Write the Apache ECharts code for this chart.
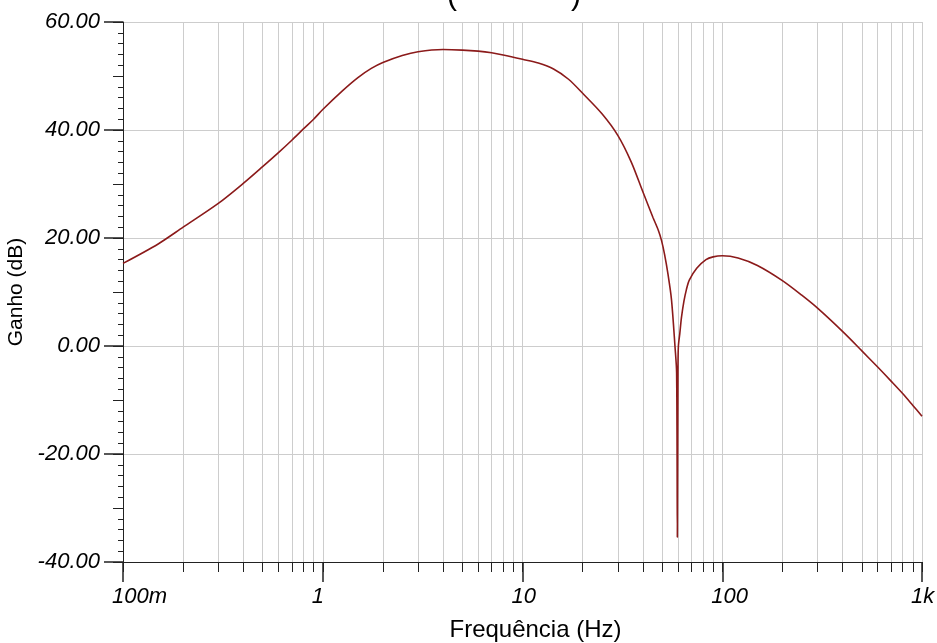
<!DOCTYPE html>
<html>
<head>
<meta charset="utf-8">
<script src="https://cdn.jsdelivr.net/npm/echarts@6/dist/echarts.min.js"></script>
<style>
  html, body { margin: 0; padding: 0; background: #ffffff; }
  #chart { width: 937px; height: 643px; }
</style>
</head>
<body>
<div id="chart"></div>
<script>
// ---- data (frequency in Hz, gain in dB) ----
const freqHz = [0.1, 0.15, 0.2, 0.3, 0.4, 0.5, 0.6, 0.7, 0.8, 0.9, 1, 1.25, 1.5, 1.75, 2, 2.5, 3, 4, 5, 6, 7, 8,
  10, 12, 14.3, 17, 20, 25, 30, 35, 40, 45, 47.9, 49.6, 51.4, 53.5, 55.7, 58, 59.1, 59.6, 60.0, 60.3, 61.3, 62.5, 64.3, 66.1,
  68.4, 74.5, 82.9, 90, 100, 120, 150, 200, 250, 300, 400, 500, 600, 700, 800, 900, 1000];
const gainDb = [15.3, 18.9, 22.0, 26.4, 30.1, 33.2, 35.8, 38.1, 40.2, 42.0, 43.8, 47.2, 49.7, 51.4, 52.5, 53.8, 54.5, 54.9, 54.8, 54.6, 54.3, 53.9,
  53.1, 52.4, 51.3, 49.4, 46.8, 43.0, 39.0, 34.1, 28.6, 23.8, 21.4, 19.6, 17.0, 13.3, 8.6, -0.1, -5.0, -35.4, -5.0, -0.1, 2.3, 5.3, 8.3, 10.4,
  12.2, 14.4, 16.0, 16.5, 16.7, 16.3, 14.9, 12.1, 9.4, 7.0, 2.7, -0.9, -3.9, -6.5, -8.8, -11.0, -13.0];

// ---- axis ticks ----
const xTickValues = [0.1, 1, 10, 100, 1000];
const xTickLabels = ['100m', '1', '10', '100', '1k'];
const yMin = -40, yMax = 60, yStep = 20;
const xAxisTitle = 'Frequência (Hz)';
const yAxisTitle = 'Ganho (dB)';

// ---- build options ----
const lg = v => Math.log10(v);
const majorPos = xTickValues.map(lg);
const allPos = [];
for (let i = 0; i < xTickValues.length - 1; i++) {
  for (let k = 1; k <= 9; k++) allPos.push(lg(xTickValues[i] * k));
}
allPos.push(lg(xTickValues[xTickValues.length - 1]));

const seriesData = freqHz.map((f, i) => [lg(f), gainDb[i]]);

const FONT = 'Liberation Sans, Arial, sans-serif';
const AXIS_COLOR = '#222';
const GRID_COLOR = '#cdcdcd';

const chart = echarts.init(document.getElementById('chart'), null, { renderer: 'canvas' });
chart.setOption({
  animation: false,
  backgroundColor: '#ffffff',
  grid: { left: 123, top: 22, width: 799, height: 540, containLabel: false, outerBoundsMode: 'none' },
  graphic: [
    { type: 'text', left: 447, top: -18, style: { text: '(', font: '30px ' + FONT, fill: '#000' } },
    { type: 'text', left: 571, top: -18, style: { text: ')', font: '30px ' + FONT, fill: '#000' } }
  ],
  xAxis: [
    {
      type: 'value', min: majorPos[0], max: majorPos[majorPos.length - 1], position: 'bottom',
      axisLine: { show: true, onZero: false, lineStyle: { color: AXIS_COLOR, width: 1 } },
      axisTick: { show: true, customValues: allPos, length: 10, lineStyle: { color: AXIS_COLOR, width: 1 } },
      axisLabel: { show: false },
      splitLine: { show: true, lineStyle: { color: GRID_COLOR, width: 1 } }
    },
    {
      type: 'value', min: majorPos[0], max: majorPos[majorPos.length - 1], position: 'bottom',
      name: xAxisTitle, nameLocation: 'middle', nameGap: 56,
      nameTextStyle: { fontFamily: FONT, fontSize: 24, color: '#000', padding: [0, 0, 0, 26] },
      axisLine: { show: true, onZero: false, lineStyle: { color: AXIS_COLOR, width: 1 } },
      axisTick: { show: true, customValues: majorPos, length: 20, lineStyle: { color: AXIS_COLOR, width: 1.5 } },
      axisLabel: {
        show: true, customValues: majorPos, margin: 24, align: 'left', padding: [0, 0, 0, -11],
        fontFamily: FONT, fontSize: 22, fontStyle: 'italic', color: '#000',
        formatter: v => {
          const i = majorPos.findIndex(p => Math.abs(p - v) < 1e-6);
          return i >= 0 ? xTickLabels[i] : '';
        }
      },
      splitLine: { show: false }
    }
  ],
  yAxis: [
    {
      type: 'value', min: yMin, max: yMax, interval: yStep, position: 'left',
      name: yAxisTitle, nameLocation: 'middle', nameGap: 95,
      nameTextStyle: { fontFamily: FONT, fontSize: 21, color: '#000' },
      axisLine: { show: true, onZero: false, lineStyle: { color: AXIS_COLOR, width: 1 } },
      axisTick: { show: true, length: 19, lineStyle: { color: AXIS_COLOR, width: 1.5 } },
      minorTick: { show: true, splitNumber: 10, length: 5, lineStyle: { color: AXIS_COLOR, width: 1 } },
      axisLabel: {
        margin: 23, fontFamily: FONT, fontSize: 22, fontStyle: 'italic', color: '#000',
        formatter: v => v.toFixed(2)
      },
      splitLine: { show: true, lineStyle: { color: GRID_COLOR, width: 1 } }
    },
    {
      type: 'value', min: yMin, max: yMax, interval: yStep / 2, position: 'left',
      axisLine: { show: false, onZero: false },
      axisTick: { show: true, length: 10, lineStyle: { color: AXIS_COLOR, width: 1 } },
      axisLabel: { show: false },
      splitLine: { show: false }
    }
  ],
  series: [
    {
      type: 'line', xAxisIndex: 0, yAxisIndex: 0,
      data: seriesData, showSymbol: false, smooth: 0.3,
      lineStyle: { color: '#8b1a1a', width: 1.6 },
      itemStyle: { color: '#8b1a1a' }
    }
  ]
});
</script>
</body>
</html>
